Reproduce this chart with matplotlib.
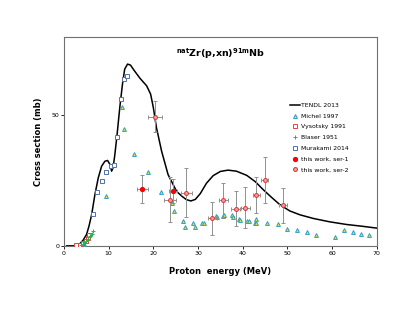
import numpy as np
import matplotlib.pyplot as plt

# TENDL 2013 curve
tendl_e = [0.6, 2.5, 3.2, 3.6, 4.3, 5.07, 5.6, 6.2, 6.93, 7.68, 8.43, 9.17, 9.77, 10.29,
           10.67, 11.0, 11.4, 11.9, 12.5, 13.1, 13.6, 14.24, 14.9, 15.66, 17.0, 18.5,
           19.4, 20.0, 20.7, 21.85, 23.3, 25.2, 26.4, 27.4, 28.4, 29.4, 30.5, 31.9,
           33.4, 35.0, 36.7, 38.6, 40.9, 42.8, 44.6, 46.5, 48.3, 50.5, 52.8, 55.8,
           59.5, 63.2, 66.8, 70.0]
tendl_s = [0.0, 0.0, 0.2, 0.9, 2.2, 4.4, 7.5, 11.9, 19.6, 26.0, 30.5, 32.4, 32.7, 31.2,
           28.6, 29.9, 35.0, 42.7, 53.0, 61.9, 67.7, 69.6, 69.2, 67.3, 64.2, 61.3,
           58.1, 53.0, 45.3, 36.3, 27.3, 20.9, 19.0, 17.7, 17.2, 17.8, 20.0, 24.0,
           26.9, 28.5, 29.0, 28.6, 27.0, 24.6, 21.5, 18.5, 15.8, 13.4, 11.9, 10.5,
           9.2, 8.2, 7.5, 6.8]

# Michel 1997
mic_e = [4.0, 4.5, 5.0, 9.39, 12.9, 13.5, 15.7, 18.9, 21.8, 24.2, 24.6, 26.7, 27.1, 28.9,
         29.3, 30.9, 31.4, 34.0, 34.2, 35.6, 35.9, 37.5, 37.9, 39.2, 39.5, 41.0, 41.3,
         42.7, 43.0, 42.9, 45.5, 47.8, 50.0, 52.2, 54.3, 56.5, 60.7, 62.7, 64.6, 66.4, 68.3]
mic_s = [0.4, 0.9, 1.8, 19.2, 53.3, 44.6, 35.0, 28.3, 20.5, 16.4, 13.5, 9.6, 7.3, 8.6,
         7.2, 8.7, 8.7, 11.5, 11.0, 11.3, 11.8, 11.9, 11.0, 10.4, 9.8, 9.7, 9.4,
         8.7, 10.4, 8.6, 8.7, 8.3, 6.4, 6.0, 5.3, 4.0, 3.3, 6.0, 5.3, 4.5, 4.1]

# Vysotsky 1991
vys_e = [2.8, 3.7, 4.3, 4.9, 5.3, 5.7]
vys_s = [0.3, 0.5, 1.2, 1.9, 3.0, 4.3]

# Blaser 1951
bla_e = [3.8, 4.2, 4.6, 5.0, 5.4, 5.8, 6.2, 6.6]
bla_s = [0.3, 0.7, 1.3, 2.0, 2.8, 3.6, 4.5, 5.6]

# Murakami 2014
mur_e = [6.4, 7.5, 8.6, 9.5, 10.5, 11.1, 11.9, 12.7, 13.4, 14.1]
mur_s = [12.3, 20.8, 24.7, 28.3, 30.5, 30.8, 41.8, 56.4, 63.8, 64.9]

# this work, ser-1
s1_e = [17.5, 24.4]
s1_s = [21.8, 21.0]
s1_dx = [1.2, 1.0]
s1_ds = [5.3, 4.5]

# this work, ser-2
s2_e = [20.4, 23.8, 27.4, 33.2, 35.6, 38.4, 40.6, 43.0, 44.9, 49.0]
s2_s = [49.5, 17.7, 20.3, 10.6, 17.4, 14.2, 14.6, 19.5, 25.3, 15.5]
s2_dx = [1.6, 1.3, 1.2, 1.0, 1.0, 1.0, 1.0, 0.8, 0.8, 0.8]
s2_ds = [6.0, 8.5, 9.4, 6.3, 6.7, 6.7, 7.8, 6.9, 8.7, 6.7]

fig = plt.figure(figsize=(4.15, 3.21), dpi=100)
ax = fig.add_axes([0.154, 0.234, 0.754, 0.651])

ax.plot(tendl_e, tendl_s, color='black', lw=1.1, label='TENDL 2013', zorder=3)
ax.plot(mic_e, mic_s, '^', ms=2.8, mfc='#e8e030', mec='#2aa0c8', mew=0.7, ls='none',
        label='Michel 1997', zorder=4)
ax.plot(vys_e, vys_s, 's', ms=2.6, mfc='white', mec='#e84040', mew=0.7, ls='none',
        label='Vysotsky 1991', zorder=4)
ax.plot(bla_e, bla_s, '+', ms=2.6, color='#30b050', mew=0.7, ls='none',
        label='Blaser 1951', zorder=4)
ax.plot(mur_e, mur_s, 's', ms=2.6, mfc='white', mec='#5070a8', mew=0.7, ls='none',
        label='Murakami 2014', zorder=4)

# error bars first, markers on top (so legend shows plain markers)
ax.errorbar(s1_e, s1_s, xerr=s1_dx, yerr=s1_ds, fmt='none', ecolor='#909090',
            elinewidth=0.7, capsize=1.2, capthick=0.7, zorder=5)
ax.errorbar(s2_e, s2_s, xerr=s2_dx, yerr=s2_ds, fmt='none', ecolor='#909090',
            elinewidth=0.7, capsize=1.2, capthick=0.7, zorder=5)
ax.plot(s1_e, s1_s, 'o', ms=2.8, mfc='red', mec='red', ls='none',
        label='this work, ser-1', zorder=6)
ax.plot(s2_e, s2_s, 'o', ms=2.8, mfc='#f4a0a0', mec='#e03030', mew=0.7, ls='none',
        label='this work, ser-2', zorder=6)

ax.set_xlim(0, 70)
ax.set_ylim(0, 80)
ax.set_xticks(range(0, 71, 10))
ax.set_yticks([0, 50])
ax.tick_params(labelsize=4.5, length=2, width=0.6, pad=1.5)
for s in ax.spines.values():
    s.set_color('#707070')
    s.set_linewidth(0.8)

ax.set_xlabel('Proton  energy (MeV)', fontsize=6, fontweight='bold', labelpad=8)
ax.set_ylabel('Cross section (mb)', fontsize=6, fontweight='bold', labelpad=6)
ax.text(0.5, 0.922, r'$^{\mathregular{nat}}$Zr(p,xn)$^{\mathregular{91m}}$Nb',
        transform=ax.transAxes, ha='center', va='center', fontsize=6.8, fontweight='bold')

leg = ax.legend(loc='upper left', bbox_to_anchor=(0.712, 0.7), frameon=False,
                fontsize=4.4, handlelength=1.6, handletextpad=0.2, labelspacing=0.9,
                borderpad=0)

fig.savefig('out.png', dpi=100)
